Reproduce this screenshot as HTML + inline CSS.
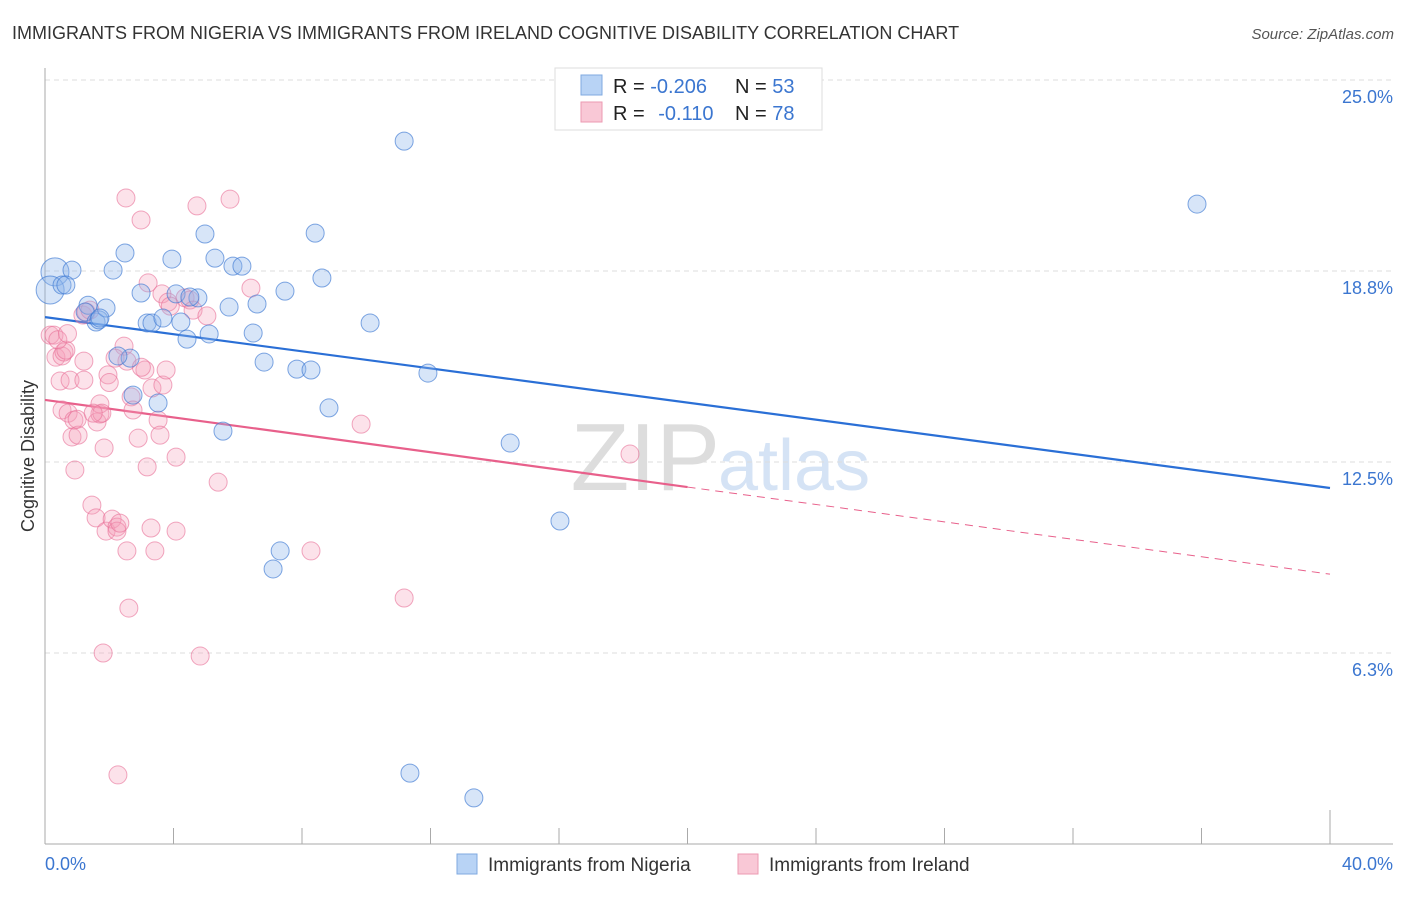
<!DOCTYPE html>
<html><head><meta charset="utf-8"><style>
body{margin:0;background:#fff;font-family:"Liberation Sans",sans-serif}
svg text{font-family:"Liberation Sans",sans-serif}
</style></head><body>
<svg id="c" width="1406" height="892" viewBox="0 0 1406 892" xmlns="http://www.w3.org/2000/svg">
<text x="12" y="39" font-size="18" fill="#333">IMMIGRANTS FROM NIGERIA VS IMMIGRANTS FROM IRELAND COGNITIVE DISABILITY CORRELATION CHART</text>
<text x="1394" y="39" font-size="15" fill="#555" font-style="italic" text-anchor="end">Source: ZipAtlas.com</text>
<text x="720" y="490" font-size="96" fill="#ddd" text-anchor="end" font-family="Liberation Serif">ZIP</text>
<text x="718" y="490" font-size="72" fill="#d5e3f5">atlas</text>
<g id="grid"></g><g id="axes"></g><g id="lines"></g><g id="pts"></g>
<text transform="translate(34,456) rotate(-90)" font-size="18" fill="#333" text-anchor="middle">Cognitive Disability</text>
<g>
<rect x="555" y="68" width="267" height="62" fill="#fff" stroke="#ddd"/>
<rect x="581" y="75" width="21" height="20" fill="#b8d3f5" stroke="#7fa9e0"/>
<rect x="581" y="102" width="21" height="20" fill="#f9c8d6" stroke="#ec9ab2"/>
<text x="613" y="93" font-size="20" fill="#222">R = <tspan fill="#3b76d0">-0.206</tspan></text>
<text x="735" y="93" font-size="20" fill="#222">N = <tspan fill="#3b76d0">53</tspan></text>
<text x="613" y="120" font-size="20" fill="#222">R = <tspan fill="#3b76d0" dx="8">-0.110</tspan></text>
<text x="735" y="120" font-size="20" fill="#222">N = <tspan fill="#3b76d0">78</tspan></text>
</g>
<g>
<rect x="457" y="854" width="20" height="20" fill="#b8d3f5" stroke="#7fa9e0"/>
<text x="488" y="871" font-size="19" fill="#333">Immigrants from Nigeria</text>
<rect x="738" y="854" width="20" height="20" fill="#f9c8d6" stroke="#ec9ab2"/>
<text x="769" y="871" font-size="19" fill="#333">Immigrants from Ireland</text>
</g>
</svg>
<script>
const yTicks=[25.0,18.75,12.5,6.25];
const yTickLabels=["25.0%","18.8%","12.5%","6.3%"];
const xTickLabels=["0.0%","40.0%"];
const nigeriaX=[0.31,0.16,0.53,0.84,0.65,1.34,1.25,1.59,1.68,1.90,2.12,2.49,2.65,2.27,2.99,3.18,3.33,2.74,3.52,3.67,3.95,4.08,4.23,4.42,4.76,4.98,5.11,5.29,5.85,6.13,5.73,6.48,6.60,6.82,7.47,7.84,8.28,8.41,8.62,8.84,10.12,11.18,11.92,14.48,16.03,35.86,5.54,7.32,7.10,11.36,13.35,4.51,1.71];
const nigeriaY=[18.72,18.13,18.29,18.78,18.29,17.63,17.41,17.08,17.15,17.54,18.78,19.34,15.90,15.97,18.03,17.05,17.05,14.69,14.43,17.21,19.14,18.00,17.08,16.52,17.87,19.96,16.69,19.17,18.91,18.91,17.57,16.72,17.67,15.77,18.09,15.54,15.51,19.99,18.52,14.27,17.05,23.00,15.41,13.12,10.57,20.94,13.51,9.59,9.00,2.32,1.51,17.90,17.21];
const irelandX=[0.16,0.28,0.34,0.47,0.53,0.59,0.65,0.78,0.53,0.72,0.84,0.93,0.90,1.03,1.18,1.28,1.40,1.21,1.21,1.46,1.59,1.62,1.71,1.71,1.77,1.84,1.96,1.90,2.09,2.24,2.24,2.33,2.52,2.46,2.55,2.55,2.61,1.81,2.27,2.68,2.74,2.90,2.99,3.11,3.18,3.21,3.30,3.33,3.42,3.52,3.58,3.64,3.67,3.77,3.83,4.08,4.08,4.36,4.51,4.61,4.73,4.83,5.04,5.39,5.76,6.41,8.28,9.84,11.18,18.21,2.18,0.4,1.0,1.5,2.0,3.0,3.9,0.7];
const irelandY=[16.65,16.65,15.93,15.15,15.97,16.10,16.16,15.18,14.20,14.10,13.32,12.24,13.87,13.38,17.31,17.41,17.47,15.80,15.18,11.09,10.67,13.81,14.07,14.40,14.10,12.96,15.35,10.24,10.63,10.37,10.24,10.50,21.14,16.29,15.80,9.59,7.72,6.25,2.26,14.63,14.20,13.28,20.42,15.51,12.34,18.36,10.34,14.92,9.59,13.87,13.38,18.00,15.02,15.51,17.73,12.66,10.24,17.87,17.80,17.47,20.88,6.15,17.28,11.84,21.10,18.19,9.59,13.74,8.05,12.76,15.90,16.5,13.9,14.1,15.1,15.6,17.6,16.7];
const nigeriaTrend=[17.24,11.65];
const irelandTrend=[14.53,8.83];
const X0=45,X1=1330,Y0=844,PX=(X1-X0)/40,PY=(844-271)/18.75;
const sx=v=>X0+v*PX, sy=v=>Y0-v*PY;
const NS="http://www.w3.org/2000/svg";
function mk(tag,at,parent){const e=document.createElementNS(NS,tag);for(const k in at)e.setAttribute(k,at[k]);document.getElementById(parent).appendChild(e);return e;}
yTicks.forEach((t,i)=>{
 const l=mk('line',{x1:X0,x2:1393,y1:sy(t),y2:sy(t),stroke:'#ddd','stroke-dasharray':'5,4'},'grid');
 
 
 const tx=mk('text',{x:1393,y:sy(t)+23,'font-size':18,fill:'#3b76d0','text-anchor':'end'},'grid');
 tx.textContent=yTickLabels[i];
 
 
});
const ax=mk('line',{x1:X0,x2:X0,y1:68,y2:Y0,stroke:'#aaa'},'axes');


const bx=mk('line',{x1:X0,x2:1393,y1:Y0,y2:Y0,stroke:'#aaa'},'axes');


for(let i=0;i<=10;i++){
 const t=mk('line',{x1:sx(i*4),x2:sx(i*4),y1:Y0,y2:i==10?Y0-34:Y0-16,stroke:'#aaa'},'axes');
 
 
}
[[0,'start',45],[40,'end',1393]].forEach((d,i)=>{
 const t=mk('text',{x:d[2],y:870,'font-size':18,fill:'#3b76d0','text-anchor':d[1]},'axes');
 t.textContent=xTickLabels[i];
 
 
});
const bl=mk('line',{x1:sx(0),y1:sy(nigeriaTrend[0]),x2:sx(40),y2:sy(nigeriaTrend[1]),stroke:'#2a6fd6','stroke-width':2.2},'lines');


const pm=(irelandTrend[0]+irelandTrend[1])/2;
const pl=mk('line',{x1:sx(0),y1:sy(irelandTrend[0]),x2:sx(20),y2:sy(pm),stroke:'#e8608b','stroke-width':2.2},'lines');


const pd=mk('line',{x1:sx(20),y1:sy(pm),x2:sx(40),y2:sy(irelandTrend[1]),stroke:'#e8608b','stroke-width':1,'stroke-dasharray':'8,6'},'lines');


irelandX.forEach((x,i)=>{
 const c=mk('circle',{cx:sx(x),cy:sy(irelandY[i]),r:9,fill:'rgba(244,160,185,0.3)',stroke:'rgba(232,110,150,0.6)','stroke-width':1},'pts');
 
 
});
nigeriaX.forEach((x,i)=>{
 const c=mk('circle',{cx:sx(x),cy:sy(nigeriaY[i]),r:i<2?14:9,fill:'rgba(140,180,235,0.35)',stroke:'rgba(60,120,210,0.65)','stroke-width':1},'pts');
 
 
});
</script>
</body></html>
